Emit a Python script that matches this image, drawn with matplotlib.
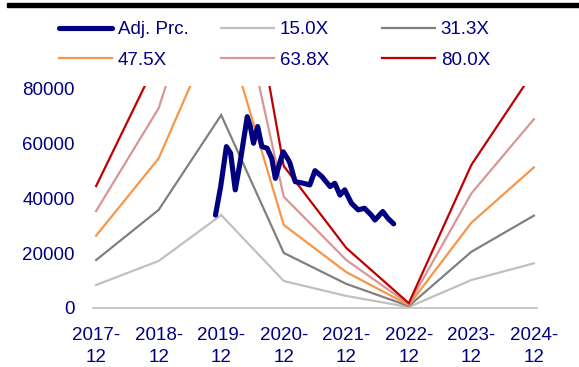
import matplotlib
matplotlib.use("Agg")
import matplotlib.pyplot as plt
from matplotlib.patches import Rectangle
import numpy as np

plt.rcParams['font.family'] = ['Liberation Sans', 'DejaVu Sans']

categories = ["2017-\n12", "2018-\n12", "2019-\n12", "2020-\n12",
              "2021-\n12", "2022-\n12", "2023-\n12", "2024-\n12"]

band_labels = ["15.0X", "31.3X", "47.5X", "63.8X", "80.0X"]
band_15 = [8400, 17150, 33900, 9850, 4400, 350, 10200, 16300]
band_31 = [17500, 35800, 70400, 20100, 8800, 700, 20500, 33700]
band_47 = [26400, 54600, 106900, 30300, 13100, 1050, 31100, 51300]
band_63 = [35400, 72900, 143600, 40600, 17500, 1400, 41800, 68900]
band_80 = [44500, 91400, 180000, 51800, 21900, 1750, 52200, 86400]

# Adjusted price: months after 2017-12 and value
price_month = [22.9, 23.9, 25.0, 25.8, 26.7, 27.7, 29.0, 29.6, 30.2, 31.0,
               31.8, 32.8, 33.7, 34.4, 35.3, 35.9, 36.9, 37.2, 37.9, 38.2,
               39.8, 41.0, 42.0, 43.3, 44.9, 45.8, 46.8, 47.7, 49.0, 50.3,
               51.5, 52.8, 53.5, 55.0, 56.0, 57.1]
price_val = [33900, 44300, 58900, 56500, 43100, 54000, 69800, 66200, 60100, 66200,
             58900, 58300, 54600, 47300, 53400, 57000, 54000, 52800, 48000, 46100,
             45500, 44900, 50100, 48000, 44300, 45500, 41200, 43100, 38200, 35800,
             36400, 33900, 32100, 35200, 32700, 30700]

yticks = [0, 20000, 40000, 60000, 80000]

navy = "#000080"
band_colors = ["#c0c0c0", "#808080", "#f79646", "#d99694", "#c00000"]

fig = plt.figure(figsize=(5.79, 3.67), dpi=100)
ax = fig.add_axes([93/579, 1-308/367, (537-93)/579, (308-86)/367])

x = np.arange(len(categories))
bands = [band_15, band_31, band_47, band_63, band_80]
band_lines = []
for vals, c, lab in zip(bands, band_colors, band_labels):
    ln, = ax.plot(x, vals, color=c, lw=1.6, label=lab, solid_joinstyle='miter')
    band_lines.append(ln)

px = np.array(price_month) / 12.0
pl, = ax.plot(px, price_val, color=navy, lw=3.7, label="Adj. Prc.",
              solid_joinstyle='round', solid_capstyle='round', zorder=5)

ax.set_xlim(-0.05, 7.05)
ax.set_ylim(0, 81000)
ax.set_xticks(x)
ax.set_xticklabels(categories, linespacing=1.42)
ax.set_yticks(yticks)
ax.set_yticklabels([str(v) for v in yticks])
ax.tick_params(axis='both', length=0, labelsize=13.5, labelcolor=navy)
ax.tick_params(axis='y', pad=13)
ax.tick_params(axis='x', pad=13.5)
for s in ['top', 'right', 'left']:
    ax.spines[s].set_visible(False)
ax.spines['bottom'].set_color('#bfbfbf')
ax.spines['bottom'].set_linewidth(1.2)

# Legend: three columns
cols = [[pl, band_lines[2]], [band_lines[0], band_lines[3]], [band_lines[1], band_lines[4]]]
col_x = [59, 221, 382]
for handles, cx in zip(cols, col_x):
    leg = fig.legend(handles=handles, labels=[h.get_label() for h in handles],
                     loc='upper left', bbox_to_anchor=(cx/579, 1-21/367),
                     frameon=False, fontsize=13.5, handlelength=2.85,
                     handletextpad=0.28, labelspacing=0.72, borderpad=0,
                     borderaxespad=0, labelcolor=navy)

fig.patches.append(Rectangle((7/579, 1-7/367), 1-7/579, 4/367,
                             transform=fig.transFigure, color='black', zorder=10))

fig.savefig("out.png", dpi=100)
